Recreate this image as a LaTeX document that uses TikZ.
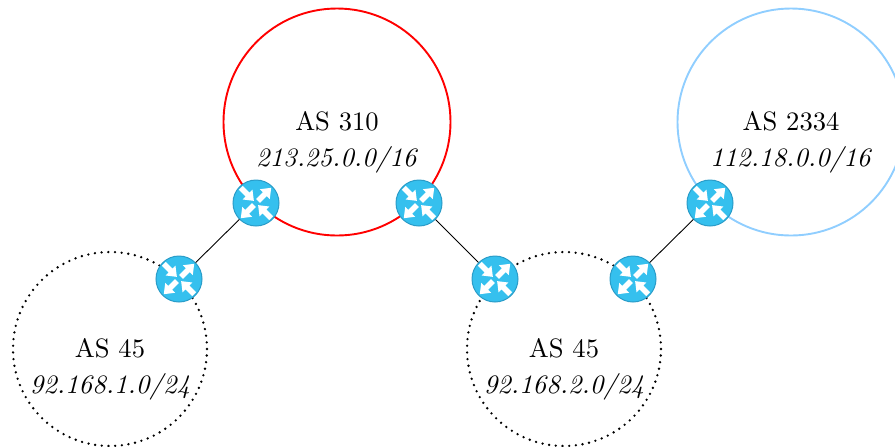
\documentclass[tikz,border=0pt]{standalone}
\usepackage{fontspec}
\setmainfont{Latin Modern Roman}
\definecolor{rfill}{HTML}{35C0EE}
\definecolor{rline}{HTML}{2A9CC8}
\definecolor{asblue}{HTML}{90CEFF}
\tikzset{
 x=0.5pt,y=-0.5pt,
 ascircle/.style={circle,minimum size=#1*1pt,inner sep=0pt,outer sep=0pt},
 redas/.style={ascircle=113.5,draw=red,line width=0.95pt},
 blueas/.style={ascircle=113.5,draw=asblue,line width=0.95pt},
 dotas/.style={ascircle=97,draw=black,line width=1.3pt,dash pattern=on 0pt off 3.35pt,line cap=round},
 aslabel/.style={align=center,font=\fontsize{10}{13.4}\selectfont,inner sep=0pt,scale=1.33},
 link/.style={draw=black,line width=0.45pt},
 routerbody/.style={circle,minimum size=23pt,inner sep=0pt,fill=rfill,draw=rline,line width=0.5pt},
}
\begin{document}
\begin{tikzpicture}
\useasboundingbox (0,0) rectangle (895,446);
\node[redas] (as310) at (337,122) {};
\node[blueas] (as2334) at (791,122) {};
\node[dotas] (asl) at (110,349) {};
\node[dotas] (asr) at (564,349) {};
\node[aslabel] (t1) at (337,142) {AS 310\\\textit{213.25.0.0/16}};
\node[aslabel] (t2) at (791,142) {AS 2334\\\textit{112.18.0.0/16}};
\node[aslabel] (t3) at (110,369) {AS 45\\\textit{92.168.1.0/24}};
\node[aslabel] (t4) at (564,369) {AS 45\\\textit{92.168.2.0/24}};
\foreach \n/\p in {a/{256,203},b/{419,203},c/{179,279},d/{495,279},e/{633,279},f/{710,203}}{
 \node[routerbody] (\n) at (\p) {};
 \foreach \r in {45,225}{
  \fill[white,shift={(\n)},rotate=\r] (3,-2.8)--(12.5,-2.8)--(12.5,-7)--(21.5,0)--(12.5,7)--(12.5,2.8)--(3,2.8)--cycle;
 }
 \foreach \r in {135,315}{
  \fill[white,shift={(\n)},rotate=\r] (21.5,-2.8)--(12,-2.8)--(12,-7)--(3,0)--(12,7)--(12,2.8)--(21.5,2.8)--cycle;
 }
}
\draw[link] (a) -- (c);
\draw[link] (b) -- (d);
\draw[link] (e) -- (f);
\end{tikzpicture}
\end{document}
